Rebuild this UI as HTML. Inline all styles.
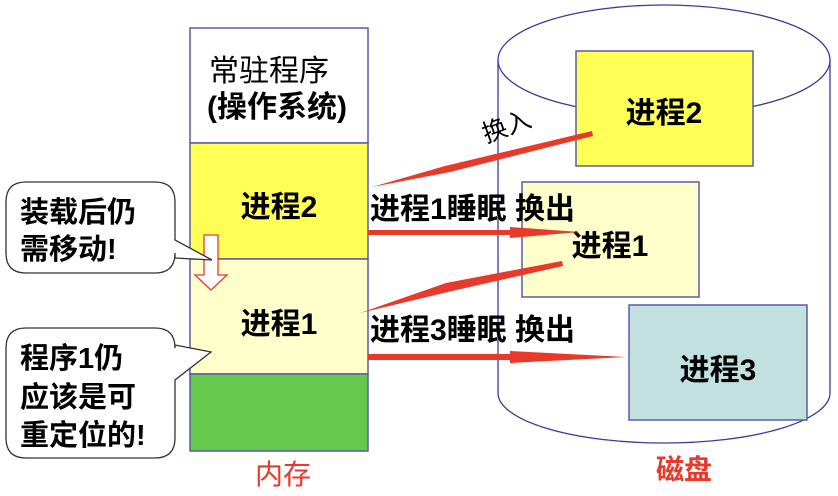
<!DOCTYPE html>
<html><head><meta charset="utf-8"><style>
body{margin:0;background:#fff;width:838px;height:496px;overflow:hidden}
svg{display:block}
text{font-family:"Liberation Sans","Noto Sans CJK SC",sans-serif}
.b{font-weight:bold}
</style></head><body>
<svg width="838" height="496" viewBox="0 0 838 496">
<path d="M498,60 L498,393 A166,50 0 0 0 830,393 L830,60" fill="#fff" stroke="#3a3a9a" stroke-width="1.3"/>
<ellipse cx="664" cy="60" rx="166" ry="55" fill="#fff" stroke="#3a3a9a" stroke-width="1.3"/>
<rect x="576" y="51" width="177" height="115" fill="#ffff55" stroke="#5a5aa8" stroke-width="1.5"/>
<text x="664" y="123" font-size="30" text-anchor="middle" class="b">进程2</text>
<rect x="522" y="182" width="177" height="115" fill="#ffffcc" stroke="#5a5aa8" stroke-width="1.5"/>
<text x="610" y="256" font-size="30" text-anchor="middle" class="b">进程1</text>
<rect x="629" y="305" width="178" height="115" fill="#c2e0e0" stroke="#5a5aa8" stroke-width="1.5"/>
<text x="718" y="380" font-size="30" text-anchor="middle" class="b">进程3</text>
<rect x="190" y="28" width="178" height="115" fill="#fff" stroke="#5a5aa8" stroke-width="1.5"/>
<text x="209" y="81" font-size="30">常驻程序</text>
<text x="207" y="117" font-size="30" class="b">(操作系统)</text>
<rect x="190" y="143" width="178" height="116" fill="#ffff55" stroke="#5a5aa8" stroke-width="1.5"/>
<text x="279" y="217" font-size="30" text-anchor="middle" class="b">进程2</text>
<rect x="190" y="259" width="178" height="115" fill="#ffffcc" stroke="#5a5aa8" stroke-width="1.5"/>
<text x="279" y="334" font-size="30" text-anchor="middle" class="b">进程1</text>
<rect x="190" y="374" width="178" height="77" fill="#66c84c" stroke="#5a5aa8" stroke-width="1.5"/>
<path d="M204,235 L218,235 L218,275 L227,275 L211,290 L195,275 L204,275 Z" fill="#fff" stroke="#e83a2a" stroke-width="1.3"/>
<path d="M26,182 H155 Q175,182 175,202 V240 L212,260 L175,258 V253 Q175,273 155,273 H26 Q6,273 6,253 V202 Q6,182 26,182 Z" fill="#fff" stroke="#333" stroke-width="1.3"/>
<text x="20" y="222" font-size="29" class="b">装载后仍</text>
<text x="20" y="259" font-size="29" class="b">需移动!</text>
<path d="M26,328 H155 Q175,328 175,348 V345 L211,352 L175,380 V438 Q175,458 155,458 H26 Q6,458 6,438 V348 Q6,328 26,328 Z" fill="#fff" stroke="#333" stroke-width="1.3"/>
<text x="20" y="368" font-size="29" class="b">程序1仍</text>
<text x="20" y="407" font-size="29" class="b">应该是可</text>
<text x="20" y="445" font-size="29" class="b">重定位的!</text>
<g fill="#e8392a">
<polygon points="592,131 593,136 450,172 372,187 445,166"/>
<polygon points="368,230 510,230 510,227 580,232 510,238 510,235 368,235"/>
<polygon points="562,261 563,266 452,291 360,313 446,283"/>
<polygon points="368,354 510,354 510,351 626,357 510,363 510,360 368,360"/>
</g>
<text transform="translate(486,143) rotate(-20)" font-size="25">换入</text>
<text x="370" y="219" font-size="30" class="b">进程1睡眠 换出</text>
<text x="370" y="340" font-size="30" class="b">进程3睡眠 换出</text>
<text x="283" y="484" font-size="28" fill="#e8392a" text-anchor="middle">内存</text>
<text x="684" y="479" font-size="28" fill="#e8392a" text-anchor="middle" class="b">磁盘</text>
</svg>
</body></html>
